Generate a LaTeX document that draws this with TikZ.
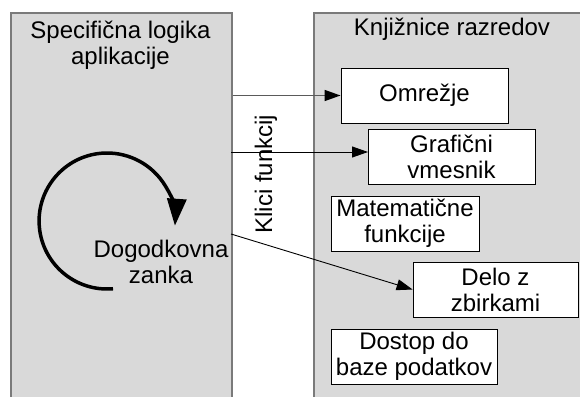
\documentclass[tikz,border=0pt]{standalone}
\usepackage{fontspec}
\setmainfont{Liberation Sans}
\usetikzlibrary{arrows.meta}

\definecolor{panelfill}{HTML}{D9D9D9}
\definecolor{panelline}{HTML}{7A7A7A}
\definecolor{callgray}{HTML}{5A5A5A}

\tikzset{
  panel/.style={draw=panelline, line width=1.5pt, fill=panelfill, anchor=north west, inner sep=0pt},
  libbox/.style={draw=black, line width=0.9pt, fill=white, align=center, inner sep=0pt,
                 minimum height=55pt, font=\fontsize{24}{26}\selectfont},
  label/.style={align=center, inner sep=0pt, font=\fontsize{24}{26}\selectfont},
  call/.style={line width=0.9pt, -{Triangle[length=16pt,width=11pt,color=black]}},
}

\begin{document}
\begin{tikzpicture}[x=1pt, y=-1pt]
  \useasboundingbox (0,0) rectangle (580,396);
  \clip (0,0) rectangle (580,396);

  % the two columns
  \node[panel, minimum width=221pt, minimum height=400pt] (lpanel) at (10,12.5) {};
  \node[panel, minimum width=290pt, minimum height=400pt] (rpanel) at (313,12.5) {};

  \node[label] (ltitle) at (120.5,45) {Specifična logika\\aplikacije};
  \node[label] (rtitle) at (452,29) {Knjižnice razredov};

  % library boxes
  \node[libbox, minimum width=167pt] (omr)  at (424.5,95.5)  {Omrežje};
  \node[libbox, minimum width=167pt] (graf) at (451.5,156.5) {Grafični\\vmesnik};
  \node[libbox, minimum width=148pt] (mat)  at (405,223.5)   {Matematične\\funkcije};
  \node[libbox, minimum width=165pt] (delo) at (495.5,289.5) {Delo z\\zbirkami};
  \node[libbox, minimum width=166pt] (db)   at (414,356.5)   {Dostop do\\baze podatkov};

  % event loop
  \node[label] (loop) at (161,262) {Dogodkovna\\zanka};
  \coordinate (lc) at (107,220);
  \draw[line width=3.5pt, -{Triangle[length=27pt,width=19pt]}]
    (lc) ++(85:69) arc[start angle=85, end angle=364, radius=68];

  % function calls
  \coordinate (c1) at (lpanel.east |- omr.west);
  \coordinate (c2) at (231,152);
  \coordinate (c3) at (231,234);
  \coordinate (g2) at (368,152);
  \draw[call, draw=callgray, line width=1.5pt] (c1) -- (omr.west);
  \draw[call] (c2) -- (g2);
  \draw[call] (c3) -- (delo.west);

  \node[label, rotate=90] (calls) at (266,174) {Klici funkcij};
\end{tikzpicture}
\end{document}
